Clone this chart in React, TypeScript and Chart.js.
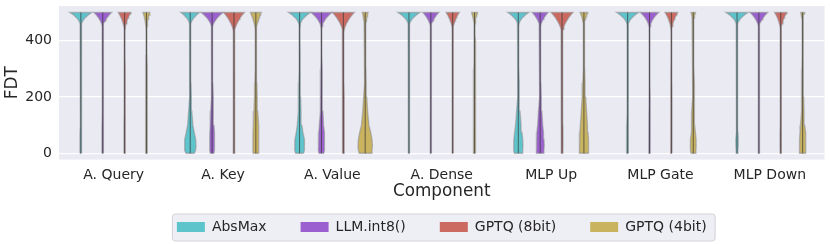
import React, { useEffect, useRef } from "react";
import { Chart, registerables } from "chart.js";

Chart.register(...registerables);

const components = ["A. Query", "A. Key", "A. Value", "A. Dense", "MLP Up", "MLP Gate", "MLP Down"];
const methods = ["AbsMax", "LLM.int8()", "GPTQ (8bit)", "GPTQ (4bit)"];
const methodColors = ["#5ec4cc", "#9b5fcf", "#cc6a61", "#c9b35e"];
const yTicks = [0, 200, 400];

// FDT levels at which the violin half-widths are read (relative to widest violin)
const fdtLevels = [0, 10, 25, 50, 75, 100, 150, 200, 250, 300, 350, 400, 420, 430, 440, 450, 460, 470, 475, 480, 485, 490, 495, 500];

const absmaxWidths = [
  [0.06, 0.08, 0.09, 0.09, 0.08, 0.07, 0.06, 0.05, 0.045, 0.04, 0.04, 0.035, 0.035, 0.035, 0.035, 0.04, 0.07, 0.17, 0.26, 0.37, 0.5, 0.64, 0.8, 1.0],
  [0.38, 0.48, 0.53, 0.5, 0.36, 0.24, 0.14, 0.1, 0.07, 0.05, 0.04, 0.035, 0.035, 0.035, 0.035, 0.04, 0.06, 0.14, 0.22, 0.31, 0.43, 0.54, 0.68, 0.85],
  [0.36, 0.42, 0.46, 0.42, 0.3, 0.21, 0.13, 0.09, 0.07, 0.05, 0.04, 0.035, 0.035, 0.035, 0.035, 0.04, 0.07, 0.17, 0.26, 0.37, 0.5, 0.64, 0.8, 1.0],
  [0.05, 0.06, 0.07, 0.07, 0.06, 0.06, 0.05, 0.045, 0.04, 0.04, 0.035, 0.035, 0.035, 0.035, 0.035, 0.04, 0.07, 0.17, 0.26, 0.37, 0.5, 0.64, 0.8, 1.0],
  [0.36, 0.4, 0.43, 0.4, 0.33, 0.25, 0.15, 0.1, 0.07, 0.05, 0.04, 0.035, 0.035, 0.035, 0.035, 0.04, 0.07, 0.16, 0.25, 0.35, 0.48, 0.61, 0.76, 0.95],
  [0.07, 0.09, 0.11, 0.12, 0.1, 0.08, 0.06, 0.05, 0.045, 0.04, 0.035, 0.035, 0.035, 0.035, 0.035, 0.04, 0.07, 0.17, 0.26, 0.37, 0.5, 0.64, 0.8, 1.0],
  [0.06, 0.08, 0.1, 0.11, 0.09, 0.07, 0.06, 0.05, 0.045, 0.04, 0.035, 0.035, 0.035, 0.035, 0.035, 0.04, 0.07, 0.17, 0.26, 0.37, 0.5, 0.64, 0.8, 1.0],
];

const llmInt8Widths = [
  [0.06, 0.07, 0.08, 0.08, 0.07, 0.07, 0.06, 0.05, 0.045, 0.04, 0.035, 0.035, 0.035, 0.035, 0.035, 0.05, 0.1, 0.22, 0.29, 0.37, 0.46, 0.56, 0.67, 0.8],
  [0.17, 0.2, 0.22, 0.22, 0.2, 0.17, 0.12, 0.09, 0.07, 0.05, 0.04, 0.035, 0.035, 0.035, 0.035, 0.06, 0.13, 0.27, 0.36, 0.46, 0.57, 0.7, 0.84, 1.0],
  [0.22, 0.26, 0.29, 0.28, 0.24, 0.19, 0.13, 0.09, 0.07, 0.05, 0.04, 0.035, 0.035, 0.035, 0.035, 0.06, 0.12, 0.26, 0.34, 0.44, 0.54, 0.67, 0.8, 0.95],
  [0.05, 0.06, 0.06, 0.06, 0.06, 0.06, 0.05, 0.045, 0.04, 0.04, 0.035, 0.035, 0.035, 0.035, 0.035, 0.04, 0.09, 0.2, 0.26, 0.34, 0.42, 0.51, 0.61, 0.73],
  [0.3, 0.34, 0.37, 0.35, 0.3, 0.23, 0.15, 0.1, 0.07, 0.05, 0.04, 0.035, 0.035, 0.035, 0.035, 0.04, 0.09, 0.2, 0.26, 0.34, 0.42, 0.51, 0.61, 0.73],
  [0.05, 0.06, 0.07, 0.07, 0.07, 0.06, 0.05, 0.045, 0.04, 0.04, 0.035, 0.035, 0.035, 0.035, 0.035, 0.05, 0.11, 0.22, 0.3, 0.38, 0.47, 0.58, 0.7, 0.83],
  [0.05, 0.06, 0.07, 0.07, 0.07, 0.06, 0.05, 0.045, 0.04, 0.04, 0.035, 0.035, 0.035, 0.035, 0.035, 0.05, 0.1, 0.22, 0.29, 0.37, 0.46, 0.56, 0.67, 0.8],
];

const gptq8Widths = [
  [0.05, 0.06, 0.06, 0.06, 0.06, 0.06, 0.055, 0.05, 0.045, 0.04, 0.035, 0.035, 0.035, 0.035, 0.04, 0.07, 0.13, 0.21, 0.26, 0.31, 0.37, 0.43, 0.5, 0.58],
  [0.06, 0.07, 0.08, 0.08, 0.08, 0.08, 0.07, 0.06, 0.05, 0.045, 0.04, 0.035, 0.035, 0.05, 0.09, 0.16, 0.27, 0.4, 0.48, 0.55, 0.64, 0.73, 0.84, 0.95],
  [0.07, 0.08, 0.09, 0.09, 0.09, 0.08, 0.07, 0.07, 0.06, 0.05, 0.045, 0.04, 0.04, 0.05, 0.09, 0.17, 0.28, 0.42, 0.5, 0.58, 0.67, 0.77, 0.88, 1.0],
  [0.05, 0.055, 0.06, 0.06, 0.06, 0.06, 0.055, 0.05, 0.045, 0.04, 0.035, 0.035, 0.035, 0.035, 0.04, 0.07, 0.13, 0.22, 0.26, 0.32, 0.38, 0.44, 0.52, 0.6],
  [0.07, 0.08, 0.09, 0.09, 0.09, 0.08, 0.07, 0.07, 0.06, 0.05, 0.045, 0.04, 0.04, 0.05, 0.09, 0.17, 0.28, 0.42, 0.5, 0.58, 0.67, 0.77, 0.88, 1.0],
  [0.05, 0.06, 0.06, 0.06, 0.06, 0.06, 0.06, 0.055, 0.05, 0.04, 0.035, 0.035, 0.035, 0.035, 0.04, 0.07, 0.13, 0.21, 0.26, 0.31, 0.37, 0.43, 0.5, 0.58],
  [0.05, 0.06, 0.07, 0.07, 0.07, 0.06, 0.055, 0.05, 0.045, 0.04, 0.035, 0.035, 0.035, 0.035, 0.04, 0.07, 0.12, 0.2, 0.25, 0.3, 0.35, 0.41, 0.48, 0.56],
];

const gptq4Widths = [
  [0.07, 0.08, 0.09, 0.09, 0.09, 0.08, 0.08, 0.07, 0.06, 0.05, 0.045, 0.04, 0.04, 0.04, 0.04, 0.05, 0.07, 0.12, 0.14, 0.17, 0.2, 0.24, 0.28, 0.32],
  [0.24, 0.26, 0.27, 0.27, 0.26, 0.23, 0.17, 0.12, 0.09, 0.07, 0.055, 0.045, 0.04, 0.04, 0.05, 0.09, 0.14, 0.21, 0.25, 0.29, 0.34, 0.39, 0.44, 0.5],
  [0.55, 0.62, 0.66, 0.62, 0.5, 0.34, 0.22, 0.14, 0.09, 0.07, 0.055, 0.045, 0.04, 0.04, 0.04, 0.04, 0.06, 0.1, 0.12, 0.14, 0.17, 0.2, 0.23, 0.27],
  [0.1, 0.11, 0.12, 0.12, 0.11, 0.1, 0.09, 0.08, 0.07, 0.06, 0.05, 0.045, 0.04, 0.04, 0.04, 0.04, 0.045, 0.07, 0.1, 0.12, 0.15, 0.19, 0.23, 0.27],
  [0.38, 0.42, 0.43, 0.41, 0.37, 0.32, 0.24, 0.16, 0.1, 0.07, 0.055, 0.045, 0.04, 0.04, 0.04, 0.04, 0.05, 0.09, 0.13, 0.16, 0.2, 0.25, 0.29, 0.35],
  [0.2, 0.24, 0.27, 0.26, 0.19, 0.13, 0.14, 0.09, 0.07, 0.055, 0.045, 0.04, 0.035, 0.035, 0.035, 0.035, 0.035, 0.04, 0.05, 0.07, 0.1, 0.13, 0.16, 0.2],
  [0.26, 0.29, 0.3, 0.28, 0.24, 0.19, 0.13, 0.09, 0.07, 0.06, 0.05, 0.04, 0.035, 0.035, 0.035, 0.035, 0.035, 0.04, 0.05, 0.067, 0.09, 0.115, 0.144, 0.18],
];

const methodWidths = [absmaxWidths, llmInt8Widths, gptq8Widths, gptq4Widths];
const dodge = [-0.3, -0.1, 0.1, 0.3];
const halfWidth = 0.1;
const FONT = "'DejaVu Sans', sans-serif";
const TEXT = "#262626";

function violinPoints(center: number, widths: number[]) {
  const right = fdtLevels.map((y, i) => ({ x: center + widths[i] * halfWidth, y }));
  const left = fdtLevels.map((y, i) => ({ x: center - widths[i] * halfWidth, y })).reverse();
  return [...right, ...left, right[0]];
}

const bgPlugin = {
  id: "bgPlugin",
  afterLayout(chart: any) {
    const lg = chart.legend;
    if (!lg) return;
    const shift = (chart.chartArea.left + chart.chartArea.right - (lg.left + lg.right)) / 2;
    lg.left += shift;
    lg.right += shift;
  },
  beforeDraw(chart: any) {
    const { ctx, chartArea } = chart;
    ctx.save();
    ctx.fillStyle = "#eaeaf2";
    ctx.fillRect(chartArea.left, chartArea.top, chartArea.right - chartArea.left, chartArea.bottom - chartArea.top);
    const lg = chart.legend;
    if (lg && lg.legendHitBoxes && lg.legendHitBoxes.length) {
      const hb = lg.legendHitBoxes;
      const last = hb[hb.length - 1];
      const x0 = hb[0].left - 5;
      const x1 = last.left + last.width + 8;
      const cy = hb[0].top + hb[0].height / 2;
      const y0 = cy - 13.5;
      const h = 27;
      ctx.beginPath();
      if (ctx.roundRect) ctx.roundRect(x0 + 0.5, y0 + 0.5, x1 - x0, h, 3);
      else ctx.rect(x0 + 0.5, y0 + 0.5, x1 - x0, h);
      ctx.fillStyle = "rgba(234,234,242,0.8)";
      ctx.fill();
      ctx.strokeStyle = "#d2d2d8";
      ctx.lineWidth = 1;
      ctx.stroke();
    }
    ctx.restore();
  },
};

export default function App() {
  const ref = useRef<HTMLCanvasElement | null>(null);
  useEffect(() => {
    if (!ref.current) return;
    const innerSets: any[] = [];
    const violinSets: any[] = [];
    methods.forEach((m, mi) => {
      components.forEach((c, ci) => {
        const center = ci + dodge[mi];
        violinSets.push({
          label: `${m} ${c}`,
          data: violinPoints(center, methodWidths[mi][ci]),
          showLine: true,
          fill: "shape",
          backgroundColor: methodColors[mi],
          borderColor: "rgba(140,140,145,0.55)",
          borderWidth: 1.4,
          pointRadius: 0,
          tension: 0,
          order: 1,
        });
        innerSets.push({
          label: `${m} ${c} inner`,
          data: [
            { x: center, y: fdtLevels[0] },
            { x: center, y: fdtLevels[fdtLevels.length - 1] },
          ],
          showLine: true,
          fill: false,
          borderColor: "rgba(60,60,60,0.75)",
          borderWidth: 1,
          pointRadius: 0,
          order: 0,
        });
      });
    });
    const chart = new Chart(ref.current, {
      type: "scatter",
      data: { datasets: [...innerSets, ...violinSets] },
      options: {
        animation: false,
        responsive: false,
        events: [],
        layout: { padding: { top: 6, right: 5.5, bottom: 0, left: 0 }, autoPadding: false },
        plugins: {
          tooltip: { enabled: false },
          legend: {
            position: "bottom",
            onClick: () => {},
            labels: {
              font: { family: FONT, size: 14 },
              color: TEXT,
              boxWidth: 28,
              boxHeight: 10,
              padding: 34,
              generateLabels: () =>
                methods.map((m, i) => ({
                  text: m,
                  fillStyle: methodColors[i],
                  strokeStyle: methodColors[i],
                  lineWidth: 0,
                  hidden: false,
                  fontColor: TEXT,
                  datasetIndex: i,
                })),
            },
          },
        },
        scales: {
          x: {
            type: "linear",
            min: -0.5,
            max: 6.5,
            afterBuildTicks: (s: any) => {
              s.ticks = components.map((_, i) => ({ value: i }));
            },
            afterFit: (s: any) => {
              s.height = 26.5;
              s.paddingLeft = 0;
              s.paddingRight = 0;
            },
            ticks: {
              autoSkip: false,
              maxRotation: 0,
              padding: 7,
              color: TEXT,
              font: { family: FONT, size: 14 },
              callback: (v: any) => components[Math.round(Number(v))] ?? "",
            },
            grid: { display: false, drawTicks: false },
            border: { display: false },
            title: {
              display: true,
              text: "Component",
              color: TEXT,
              font: { family: FONT, size: 16.8, lineHeight: 1 },
              padding: { top: 0, bottom: -14 },
            },
          },
          y: {
            type: "linear",
            min: -22,
            max: 523,
            afterBuildTicks: (s: any) => {
              s.ticks = yTicks.map((v) => ({ value: v }));
            },
            afterFit: (s: any) => {
              s.width = 59;
              s.paddingTop = 0;
              s.paddingBottom = 0;
            },
            ticks: {
              padding: 7,
              color: TEXT,
              font: { family: FONT, size: 14 },
            },
            grid: { color: "#ffffff", lineWidth: 1.3, drawTicks: false },
            border: { display: false },
            title: {
              display: true,
              text: "FDT",
              color: TEXT,
              font: { family: FONT, size: 16.8, lineHeight: 1 },
              padding: { top: 4.4, bottom: 0 },
            },
          },
        },
      },
      plugins: [bgPlugin],
    } as any);
    return () => chart.destroy();
  }, []);
  return (
    <div style={{ position: "fixed", left: 0, top: 0, width: 830, height: 244, background: "#ffffff" }}>
      <canvas ref={ref} width={830} height={244} style={{ display: "block", width: 830, height: 244 }} />
    </div>
  );
}
